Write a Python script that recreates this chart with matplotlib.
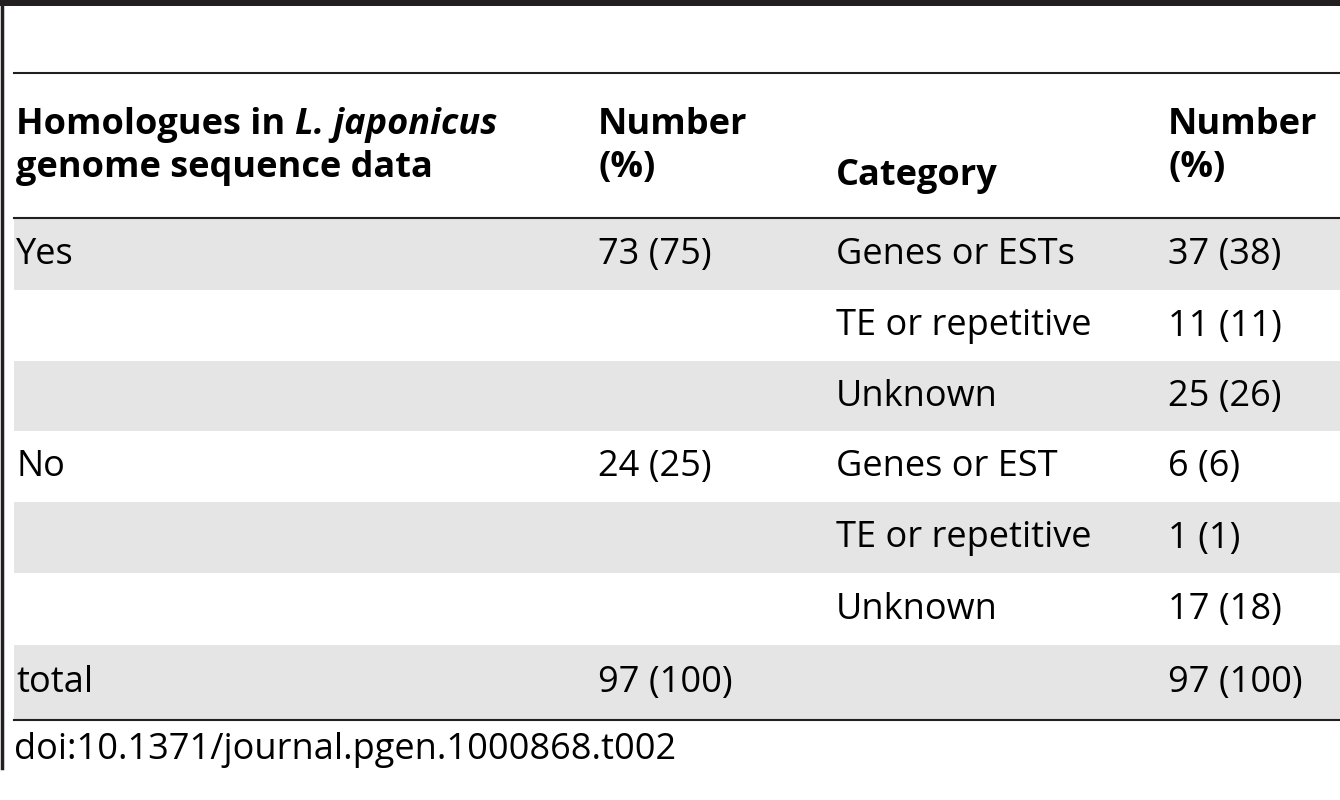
import matplotlib.pyplot as plt

plt.rcParams['font.family'] = ['Open Sans', 'DejaVu Sans']

presence = ["Yes", "", "", "No", "", "", "total"]
presence_num = ["73 (75)", "", "", "24 (25)", "", "", "97 (100)"]
category = ["Genes or ESTs", "TE or repetitive", "Unknown",
            "Genes or EST", "TE or repetitive", "Unknown", ""]
category_num = ["37 (38)", "11 (11)", "25 (26)", "6 (6)", "1 (1)", "17 (18)", "97 (100)"]
doi = "doi:10.1371/journal.pgen.1000868.t002"

W, H = 1340, 800
fig = plt.figure(figsize=(13.4, 8), dpi=100)
ax = fig.add_axes([0, 0, 1, 1])
ax.set_xlim(0, W)
ax.set_ylim(H, 0)
ax.axis('off')

fs = 26
col_x = [16, 598, 836, 1168]

# frame lines
ax.fill_between([0, W], 0, 6, color='#231f20', lw=0)
ax.plot([2, 2], [0, 768], color='#231f20', lw=2.5)
ax.plot([14, W], [73, 73], color='#231f20', lw=1.5)
ax.plot([14, W], [218, 218], color='#231f20', lw=1.5)
ax.plot([14, W], [720, 720], color='#231f20', lw=1.5)

# header
fig.canvas.draw()
r = fig.canvas.get_renderer()
t = ax.text(col_x[0], 125, "Homologues in ", fontsize=fs, fontweight='bold', va='center')
bb = t.get_window_extent(r)
ax.text(col_x[0] + bb.width, 125, "L. japonicus", fontsize=fs, fontweight='bold',
        style='italic', va='center')
ax.text(col_x[0], 168, "genome sequence data", fontsize=fs, fontweight='bold', va='center')
ax.text(col_x[1], 125, "Number", fontsize=fs, fontweight='bold', va='center')
ax.text(col_x[1], 168, "(%)", fontsize=fs, fontweight='bold', va='center')
ax.text(col_x[2], 176, "Category", fontsize=fs, fontweight='bold', va='center')
ax.text(col_x[3], 125, "Number", fontsize=fs, fontweight='bold', va='center')
ax.text(col_x[3], 168, "(%)", fontsize=fs, fontweight='bold', va='center')

# body rows
edges = [219, 290, 361, 431, 502, 573, 645, 719]
for i in range(len(presence)):
    y0, y1 = edges[i], edges[i + 1]
    if i % 2 == 0:
        ax.fill_between([14, W], y0, y1, color='#e5e5e5', lw=0)
    yc = (y0 + y1) / 2 + 1
    for x, col in zip(col_x, [presence, presence_num, category, category_num]):
        ax.text(x, yc, col[i], fontsize=fs, va='center')

ax.text(14, 750, doi, fontsize=fs, va='center')

fig.savefig("out.png", dpi=100)
